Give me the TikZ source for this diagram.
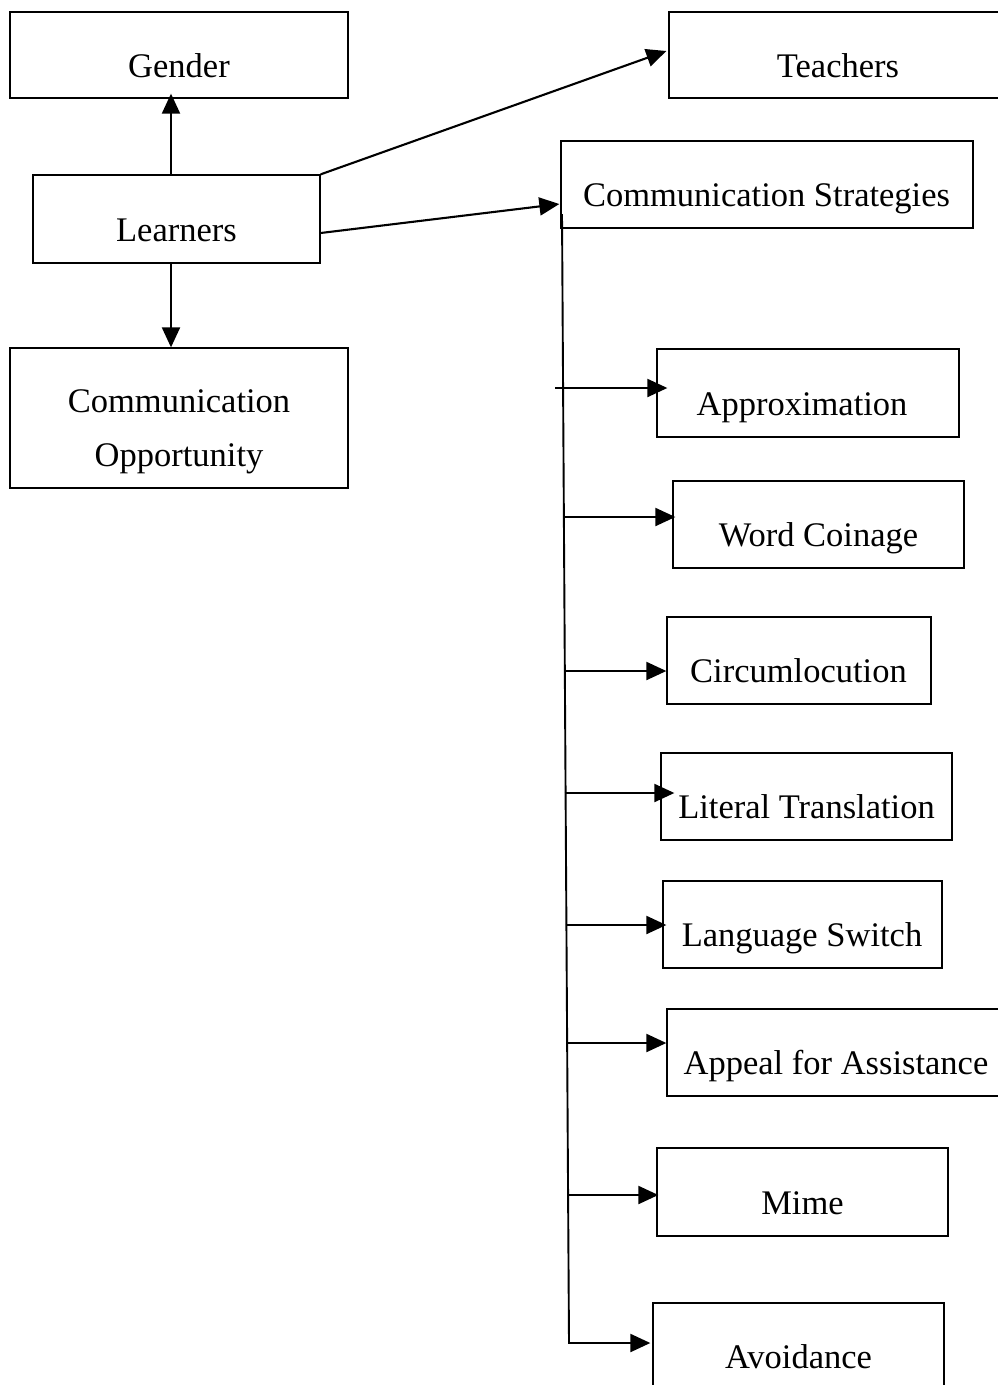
\documentclass[tikz,border=0pt]{standalone}
\usepackage{fontspec}
\setmainfont{Liberation Serif}
\usetikzlibrary{arrows.meta,calc}
\begin{document}
\begin{tikzpicture}[x=1pt,y=-1pt,
  box/.style={draw, line width=1.3pt, inner sep=0pt},
  lbl/.style={inner sep=0pt, anchor=base, font=\fontsize{34.5pt}{54pt}\selectfont},
  arr/.style={line width=2.1pt, -{Triangle[length=20pt,width=18pt]}},
  trunk/.style={line width=1.9pt}]
\useasboundingbox (0,0) rectangle (998,1385);
\fill[white] (0,0) rectangle (998,1385);

% left column boxes
\node[box, minimum width=338pt, minimum height=86pt] (gender) at (179,55) {};
\node[box, minimum width=287pt, minimum height=88pt] (learners) at (176.5,219) {};
\node[box, minimum width=338pt, minimum height=140pt] (opp) at (179,418) {};
% right column boxes
\node[box, minimum width=332pt, minimum height=86pt] (teachers) at (835,55) {};
\node[box, minimum width=412pt, minimum height=87pt] (cs) at (767,184.5) {};
\node[box, minimum width=302pt, minimum height=88pt] (appr) at (808,393) {};
\node[box, minimum width=291pt, minimum height=87pt] (coin) at (818.5,524.5) {};
\node[box, minimum width=264pt, minimum height=87pt] (circ) at (799,660.5) {};
\node[box, minimum width=291pt, minimum height=87pt] (lit) at (806.5,796.5) {};
\node[box, minimum width=279pt, minimum height=87pt] (lang) at (802.5,924.5) {};
\node[box, minimum width=334pt, minimum height=87pt] (appeal) at (834,1052.5) {};
\node[box, minimum width=291pt, minimum height=88pt] (mime) at (802.5,1192) {};
\node[box, minimum width=291pt, minimum height=89pt] (avoid) at (798.5,1347.5) {};

% labels
\node[lbl] (tgender) at (179,77) {Gender};
\node[lbl] (tlearners) at (176.5,241) {Learners};
\node[lbl] (topp1) at (179,412) {Communication};
\node[lbl] (topp2) at (179,466) {Opportunity};
\node[lbl] (tteachers) at (838,77) {Teachers};
\node[lbl] (tcs) at (766.5,206.5) {Communication Strategies};
\node[lbl] (tappr) at (802,415) {Approximation};
\node[lbl] (tcoin) at (818.5,546.5) {Word Coinage};
\node[lbl] (tcirc) at (798.5,682.5) {Circumlocution};
\node[lbl] (tlit) at (806.5,818.5) {Literal Translation};
\node[lbl] (tlang) at (802,946.5) {Language Switch};
\node[lbl] (tappeal) at (836,1074.5) {Appeal for Assistance};
\node[lbl] (tmime) at (802.5,1214) {Mime};
\node[lbl] (tavoid) at (798.5,1368) {Avoidance};

% arrows leaving Learners
\coordinate (ax) at (171,0);
\draw[arr, shorten >=-5pt] (learners.north -| ax) -- (gender.south -| ax);
\draw[arr] (learners.south -| ax) -- (opp.north -| ax);
\draw[arr] (learners.north east) -- ([yshift=4pt, xshift=-2pt]teachers.west);
\draw[arr] ([yshift=-14pt]learners.east) -- ([yshift=-19.5pt, xshift=-1pt]cs.west);

% trunk under Communication Strategies
\coordinate (ttop) at (562,214);
\coordinate (tbot) at (569,1343);
\draw[trunk] (ttop) -- (tbot);

% branch start points on the trunk
\coordinate (b1) at (555,388);
\coordinate (b2) at (563,517);
\coordinate (b3) at (564,671);
\coordinate (b4) at (564.5,793);
\coordinate (b5) at (565.5,925);
\coordinate (b6) at (566,1043);
\coordinate (b7) at (567,1195);

\draw[arr] (b1) -- ([xshift=11pt]appr.west |- b1);
\draw[arr] (b2) -- ([xshift=3pt]coin.west |- b2);
\draw[arr] (b3) -- (circ.west |- b3);
\draw[arr] (b4) -- ([xshift=14pt]lit.west |- b4);
\draw[arr] (b5) -- ([xshift=4pt]lang.west |- b5);
\draw[arr] (b6) -- (appeal.west |- b6);
\draw[arr] (b7) -- ([xshift=2pt]mime.west |- b7);
\draw[arr] ([xshift=-0.9pt]tbot) -- ([xshift=-2pt]avoid.west |- tbot);
\end{tikzpicture}
\end{document}
